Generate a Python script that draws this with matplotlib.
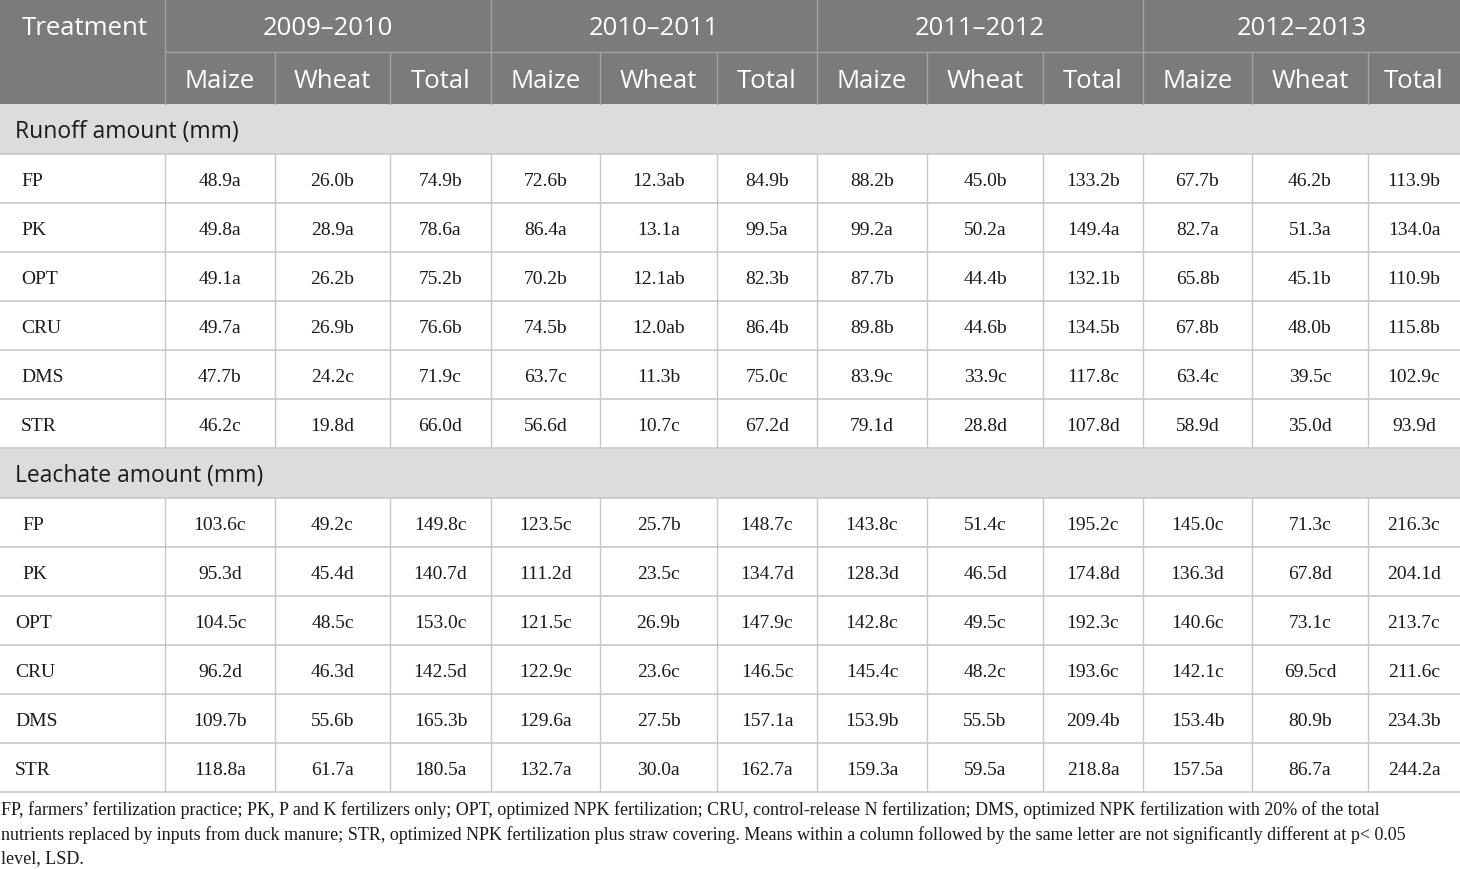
import matplotlib.pyplot as plt
from matplotlib.patches import Rectangle

# Table content
seasons = ["2009–2010", "2010–2011", "2011–2012", "2012–2013"]
crops = ["Maize", "Wheat", "Total"]
treatments = ["FP", "PK", "OPT", "CRU", "DMS", "STR"]

runoff = [
    ["48.9a", "26.0b", "74.9b", "72.6b", "12.3ab", "84.9b", "88.2b", "45.0b", "133.2b", "67.7b", "46.2b", "113.9b"],
    ["49.8a", "28.9a", "78.6a", "86.4a", "13.1a", "99.5a", "99.2a", "50.2a", "149.4a", "82.7a", "51.3a", "134.0a"],
    ["49.1a", "26.2b", "75.2b", "70.2b", "12.1ab", "82.3b", "87.7b", "44.4b", "132.1b", "65.8b", "45.1b", "110.9b"],
    ["49.7a", "26.9b", "76.6b", "74.5b", "12.0ab", "86.4b", "89.8b", "44.6b", "134.5b", "67.8b", "48.0b", "115.8b"],
    ["47.7b", "24.2c", "71.9c", "63.7c", "11.3b", "75.0c", "83.9c", "33.9c", "117.8c", "63.4c", "39.5c", "102.9c"],
    ["46.2c", "19.8d", "66.0d", "56.6d", "10.7c", "67.2d", "79.1d", "28.8d", "107.8d", "58.9d", "35.0d", "93.9d"],
]
leachate = [
    ["103.6c", "49.2c", "149.8c", "123.5c", "25.7b", "148.7c", "143.8c", "51.4c", "195.2c", "145.0c", "71.3c", "216.3c"],
    ["95.3d", "45.4d", "140.7d", "111.2d", "23.5c", "134.7d", "128.3d", "46.5d", "174.8d", "136.3d", "67.8d", "204.1d"],
    ["104.5c", "48.5c", "153.0c", "121.5c", "26.9b", "147.9c", "142.8c", "49.5c", "192.3c", "140.6c", "73.1c", "213.7c"],
    ["96.2d", "46.3d", "142.5d", "122.9c", "23.6c", "146.5c", "145.4c", "48.2c", "193.6c", "142.1c", "69.5cd", "211.6c"],
    ["109.7b", "55.6b", "165.3b", "129.6a", "27.5b", "157.1a", "153.9b", "55.5b", "209.4b", "153.4b", "80.9b", "234.3b"],
    ["118.8a", "61.7a", "180.5a", "132.7a", "30.0a", "162.7a", "159.3a", "59.5a", "218.8a", "157.5a", "86.7a", "244.2a"],
]
sections = [("Runoff amount (mm)", runoff), ("Leachate amount (mm)", leachate)]
footnote = ("FP, farmers’ fertilization practice; PK, P and K fertilizers only; OPT, optimized NPK fertilization; "
            "CRU, control-release N fertilization; DMS, optimized NPK fertilization with 20% of the total\n"
            "nutrients replaced by inputs from duck manure; STR, optimized NPK fertilization plus straw covering. "
            "Means within a column followed by the same letter are not significantly different at p< 0.05\n"
            "level, LSD.")

# Layout (pixels)
W, H = 1460, 870
col_x = [0, 165, 275, 390, 491, 600, 717, 817, 927, 1043, 1143, 1252, 1368, 1460]
head1, head2 = 53, 105
sec_h, row_h = 50, 49
name_x = [[21] * 6, [22, 22, 15, 15, 15, 15]]
head_bg = "#7b7b7b"
head_line = "#a3a3a3"
sec_bg = "#dcdcdc"
grid = "#c8c8c8"
sans = "Open Sans"
serif = "Liberation Serif"

fig = plt.figure(figsize=(W / 100, H / 100), dpi=100)
ax = fig.add_axes([0, 0, 1, 1])
ax.set_xlim(0, W)
ax.set_ylim(H, 0)
ax.axis("off")

# header block
ax.add_patch(Rectangle((0, 0), W, head2, color=head_bg, lw=0))
ax.text(85, head1 / 2 + 2, "Treatment", color="white", fontsize=18.5, family=sans,
        ha="center", va="center")
for s, season in enumerate(seasons):
    x0, x1 = col_x[1 + 3 * s], col_x[4 + 3 * s]
    ax.text((x0 + x1) / 2, head1 / 2 + 2, season, color="white", fontsize=18.5,
            family=sans, ha="center", va="center")
    ax.plot([x0, x0], [0, head2], color=head_line, lw=1)
    ax.plot([x0 + 1, x1 - 1], [head1, head1], color=head_line, lw=1)
    for c, crop in enumerate(crops):
        cx0, cx1 = col_x[1 + 3 * s + c], col_x[2 + 3 * s + c]
        ax.text((cx0 + cx1) / 2, (head1 + head2) / 2 + 3, crop, color="white",
                fontsize=18.5, family=sans, ha="center", va="center")
        if c > 0:
            ax.plot([cx0, cx0], [head1, head2], color=head_line, lw=1)

# body
y = head2
for k, (title, rows) in enumerate(sections):
    ax.add_patch(Rectangle((0, y), W, sec_h, color=sec_bg, lw=0))
    ax.text(15, y + sec_h / 2 + 2, title, fontsize=16.5, family=sans,
            color="#1a1a1a", ha="left", va="center")
    y += sec_h
    ax.plot([0, W], [y, y], color=grid, lw=1.2)
    for i, (name, vals) in enumerate(zip(treatments, rows)):
        ax.text(name_x[k][i], y + row_h / 2 + 2, name, fontsize=14, family=serif,
                color="#1a1a1a", ha="left", va="center")
        for j, v in enumerate(vals):
            ax.text((col_x[j + 1] + col_x[j + 2]) / 2, y + row_h / 2 + 2, v,
                    fontsize=14, family=serif, color="#1a1a1a",
                    ha="center", va="center")
        for xv in col_x[1:-1]:
            ax.plot([xv, xv], [y, y + row_h], color=grid, lw=1)
        y += row_h
        ax.plot([0, W], [y, y], color=grid, lw=1.2)

ax.text(1, y + 8, footnote, fontsize=13.0, family=serif, color="#1a1a1a",
        ha="left", va="top", linespacing=1.5)

fig.savefig("out.png", dpi=100)
